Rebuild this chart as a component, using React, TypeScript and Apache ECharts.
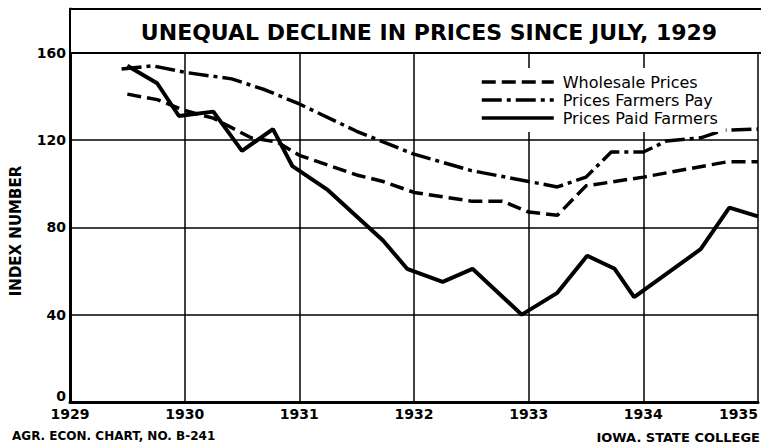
import React, { useEffect, useRef } from "react";
import * as echarts from "echarts";

const titleText = "UNEQUAL DECLINE IN PRICES SINCE JULY, 1929";
const yAxisTitle = "INDEX NUMBER";
const footLeft = "AGR. ECON. CHART, NO. B-241";
const footRight = "IOWA. STATE COLLEGE";

const seriesNames = ["Wholesale Prices", "Prices Farmers Pay", "Prices Paid Farmers"];

const wholesale: [number, number][] = [
  [1929.5, 141], [1929.76, 138.5], [1930.0, 133.5], [1930.25, 130], [1930.58, 121],
  [1930.81, 119], [1931.0, 113], [1931.5, 104], [1931.73, 101], [1932.0, 96],
  [1932.5, 92], [1932.77, 92], [1933.0, 87], [1933.25, 85.5], [1933.5, 99],
  [1934.0, 103], [1934.73, 110], [1935.0, 110],
];

const farmersPay: [number, number][] = [
  [1929.45, 152.5], [1929.72, 154], [1930.0, 151], [1930.41, 148], [1930.7, 143],
  [1931.0, 136.5], [1931.5, 124], [1932.0, 113.5], [1932.5, 106], [1933.0, 101],
  [1933.25, 98.5], [1933.5, 103], [1933.72, 114.5], [1934.0, 114.5], [1934.2, 119.5],
  [1934.5, 121], [1934.7, 124.5], [1935.0, 125],
];

const paidFarmers: [number, number][] = [
  [1929.5, 154], [1929.76, 146], [1929.95, 131], [1930.25, 133], [1930.5, 115],
  [1930.77, 125], [1930.94, 108], [1931.25, 97], [1931.73, 74], [1931.94, 61],
  [1932.25, 55], [1932.51, 61], [1932.94, 40], [1933.25, 50], [1933.51, 67],
  [1933.75, 61], [1933.92, 48], [1934.5, 70], [1934.75, 89], [1935.0, 85],
];

const yTicks = [0, 40, 80, 120, 160];
const xYears = [1929, 1930, 1931, 1932, 1933, 1934, 1935];

const FONT = "DejaVu Sans";

export default function App() {
  const ref = useRef<HTMLDivElement>(null);
  useEffect(() => {
    document.body.style.margin = "0";
    const chart = echarts.init(ref.current!, null, { renderer: "svg" });
    const lineBase = { color: "#000", width: 3.5 };
    chart.setOption({
      animation: false,
      backgroundColor: "#fff",
      color: ["#000", "#000", "#000"],
      textStyle: { fontFamily: FONT, color: "#000" },
      grid: { left: 70, right: 0, top: 9, bottom: 46 },
      xAxis: {
        type: "value",
        min: xYears[0],
        max: xYears[xYears.length - 1],
        interval: 1,
        axisLine: { show: true, onZero: false, lineStyle: { color: "#000", width: 3 } },
        axisTick: { show: false },
        axisLabel: {
          color: "#000",
          fontFamily: FONT,
          fontWeight: "bold",
          fontSize: 14,
          margin: 5,
          alignMaxLabel: "right",
          formatter: (v: number) => String(v),
        },
        splitLine: { show: true, lineStyle: { color: "#000", width: 1.5 } },
      },
      yAxis: {
        type: "value",
        min: 0,
        max: 180,
        interval: 40,
        axisLine: { show: true, lineStyle: { color: "#000", width: 3 } },
        axisTick: { show: false },
        axisLabel: {
          color: "#000",
          fontFamily: FONT,
          fontWeight: "bold",
          fontSize: 14,
          margin: 4,
          formatter: (v: number) =>
            v === 0 ? "{z|0}" : yTicks.includes(v) ? String(v) : "",
          rich: {
            z: {
              fontFamily: FONT,
              fontWeight: "bold",
              fontSize: 14,
              color: "#000",
              padding: [0, 0, 12, 0],
            },
          },
        },
        splitLine: { show: true, lineStyle: { color: "#000", width: 1.5 } },
      },
      legend: {
        orient: "vertical",
        left: 472,
        top: 68,
        data: seriesNames,
        backgroundColor: "#fff",
        padding: [6, 8, 6, 8],
        itemWidth: 72,
        itemHeight: 10,
        itemGap: 2,
        itemStyle: { opacity: 0 },
        lineStyle: { width: 3.5 },
        textStyle: { fontFamily: FONT, fontSize: 16, color: "#000", padding: [0, 0, 0, 4] },
        z: 5,
      },
      graphic: [
        {
          type: "rect",
          z: 10,
          shape: { x: 70, y: 9, width: 700, height: 44 },
          style: { fill: "#fff", stroke: "#000", lineWidth: 2 },
        },
        {
          type: "text",
          z: 11,
          x: 429,
          y: 32,
          style: {
            text: titleText,
            fontFamily: FONT,
            fontWeight: "bold",
            fontSize: 22,
            fill: "#000",
            align: "center",
            verticalAlign: "middle",
          },
        },
        {
          type: "text",
          z: 11,
          x: 16,
          y: 231,
          rotation: Math.PI / 2,
          style: {
            text: yAxisTitle,
            fontFamily: FONT,
            fontWeight: "bold",
            fontSize: 15,
            fill: "#000",
            align: "center",
            verticalAlign: "middle",
          },
        },
        {
          type: "text",
          z: 11,
          x: 12,
          y: 436,
          style: {
            text: footLeft,
            fontFamily: FONT,
            fontWeight: "bold",
            fontSize: 12,
            fill: "#000",
            align: "left",
            verticalAlign: "middle",
          },
        },
        {
          type: "text",
          z: 11,
          x: 760,
          y: 437,
          style: {
            text: footRight,
            fontFamily: FONT,
            fontWeight: "bold",
            fontSize: 13,
            fill: "#000",
            align: "right",
            verticalAlign: "middle",
          },
        },
      ],
      series: [
        {
          name: seriesNames[0],
          type: "line",
          data: wholesale,
          symbol: "none",
          itemStyle: { color: "#000" },
          lineStyle: { ...lineBase, type: [14, 6] },
          z: 3,
        },
        {
          name: seriesNames[1],
          type: "line",
          data: farmersPay,
          symbol: "none",
          itemStyle: { color: "#000" },
          lineStyle: { ...lineBase, type: [20, 5, 4, 5] },
          z: 3,
        },
        {
          name: seriesNames[2],
          type: "line",
          data: paidFarmers,
          symbol: "none",
          itemStyle: { color: "#000" },
          lineStyle: { ...lineBase, width: 4 },
          z: 3,
        },
      ],
    });
    return () => chart.dispose();
  }, []);
  return (
    <div
      ref={ref}
      style={{ position: "fixed", left: 0, top: 0, width: 761, height: 448 }}
    />
  );
}
